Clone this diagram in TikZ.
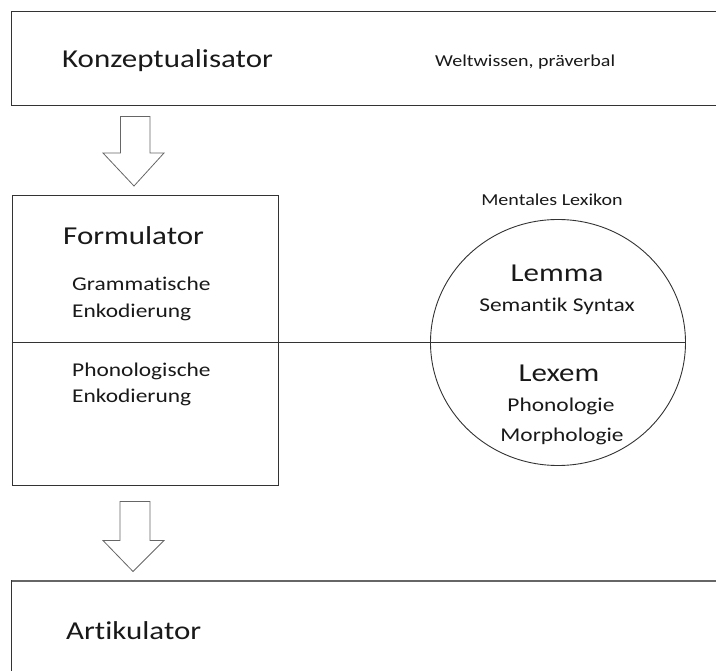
\documentclass[tikz,border=0pt]{standalone}
\usepackage{fontspec}
\setmainfont[FakeStretch=1.2,Ligatures={NoCommon}]{Carlito}
\begin{document}
\begin{tikzpicture}[x=1pt,y=-1pt,
  boxline/.style={draw=black!80,line width=1pt},
  title/.style={font=\fontsize{25.8}{30}\selectfont,inner sep=0pt,text=black!90},
  sub/.style={font=\fontsize{19.5}{23}\selectfont,inner sep=0pt,text=black!90},
  small/.style={font=\fontsize{16.7}{20}\selectfont,inner sep=0pt,text=black!90},
  blockarrow/.style={draw=black!60,fill=white,line width=0.8pt,line join=miter}]
\useasboundingbox (0,0) rectangle (716,671);
% top box (open at right)
\draw[boxline] (716,12) -- (11,12) -- (11,106) -- (716,106);
\node[title,anchor=base west] (konz) at (62,68) {Konzeptualisator};
\node[small,anchor=base west] (welt) at (435,67) {Weltwissen, präverbal};
% arrow 1
\draw[blockarrow] (120.5,116.5) -- (150,116.5) -- (150,153) -- (164,153) -- (134,186) -- (103,153) -- (120.5,153) -- cycle;
% formulator box
\node[boxline,minimum width=266pt,minimum height=290pt,anchor=north west,inner sep=0pt] (form) at (11.5,195.5) {};
\coordinate (divL) at (11.5,342);
\node[title,anchor=base west] (formt) at (63,245) {Formulator};
\node[sub,anchor=base west] (gram) at (72,291) {Grammatische};
\node[sub,anchor=base west] (gram2) at (72,318) {Enkodierung};
\node[sub,anchor=base west] (phon) at (72,376.5) {Phonologische};
\node[sub,anchor=base west] (phon2) at (72,403) {Enkodierung};
% mental lexicon
\node[small,anchor=base] (ml) at (552,206) {Mentales Lexikon};
\draw[draw=black!80,line width=0.9pt] (558,342.5) ellipse [x radius=127.5, y radius=123];
\coordinate (divR) at (685.5,342);
\draw[draw=black!80,line width=0.9pt] (divL) -- (divR);
\node[title,anchor=base] (lemma) at (557,281.5) {Lemma};
\node[sub,anchor=base] (sem) at (557,311.5) {Semantik Syntax};
\node[title,anchor=base] (lexem) at (559,381.5) {Lexem};
\node[sub,anchor=base] (pho) at (561,411.5) {Phonologie};
\node[sub,anchor=base] (mor) at (562,441.5) {Morphologie};
% arrow 2
\draw[blockarrow] (120,501.5) -- (150,501.5) -- (150,540.5) -- (164,540.5) -- (133,571.5) -- (103,540.5) -- (120,540.5) -- cycle;
% bottom box
\draw[draw=black!60,line width=1.8pt] (716,581) -- (11,581);
\draw[draw=black!80,line width=1pt] (11,580.1) -- (11,671);
\node[title,anchor=base west] (art) at (66,639) {Artikulator};
\end{tikzpicture}
\end{document}
